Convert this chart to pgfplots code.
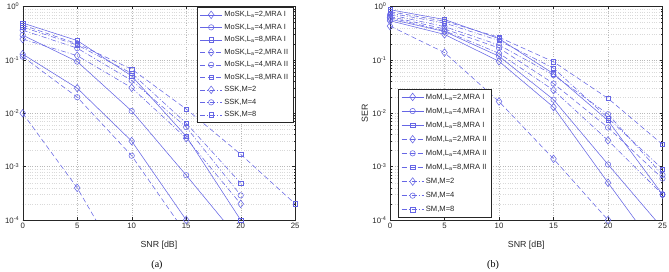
\documentclass[border=0pt]{standalone}
\usepackage{pgfplots}
\pgfplotsset{compat=1.18}
\usepackage{fontspec}
\setmainfont{Liberation Sans}
\newfontfamily\capfont{Liberation Serif}

\definecolor{serblue}{rgb}{0.40,0.40,0.90}
\definecolor{boxgray}{gray}{0.15}

% marker and line styles of the nine curves in each panel
\tikzset{
  mD/.style={mark=diamond, mark size=3.8pt},
  mO/.style={mark=o, mark size=2.7pt},
  mS/.style={mark=square, mark size=2.2pt},
  lI/.style={solid},
  lII/.style={dash pattern=on 5pt off 3pt},
  lS/.style={dash pattern=on 5pt off 2pt on 1pt off 2pt},
}

\pgfplotsset{
  every axis/.append style={
    width=272.5pt, height=213.5pt, scale only axis,
    xmin=0, xmax=25, ymin=1e-4, ymax=1,
    xtick={0,5,...,25},
    ytick={1e-4,1e-3,1e-2,1e-1,1},
    yticklabels={10\textsuperscript{-4},10\textsuperscript{-3},10\textsuperscript{-2},10\textsuperscript{-1},10\textsuperscript{0}},
    /pgf/number format/assume math mode=true,
    tick label style={font=\fontsize{7.8}{9}\selectfont, text=boxgray},
    label style={font=\fontsize{8.8}{10}\selectfont, text=boxgray},
    axis line style={boxgray, line width=0.4pt},
    tick style={boxgray, line width=0.4pt},
    major tick length=3pt, minor tick length=1.6pt,
    grid=both,
    major grid style={dotted, gray!55, line width=0.4pt},
    minor grid style={dotted, gray!30, line width=0.3pt},
    xlabel={SNR [dB]},
    xlabel style={at={(axis description cs:0.5,-0.117)}, anchor=center},
    legend cell align=left,
    legend image code/.code={\draw[mark repeat=2,mark phase=2] plot coordinates {(0pt,0pt) (11pt,0pt) (22pt,0pt)};},
  },
  every axis plot/.append style={serblue, line width=0.55pt, mark options={solid, fill=none}},
}

\begin{document}
\begin{tikzpicture}
\path[use as bounding box] (0,0) rectangle (669pt,272pt);

% (a) MoSK versus SSK
\begin{semilogyaxis}[at={(22.7pt,52pt)}, anchor=south west,
  legend style={at={(0.993,0.997)}, anchor=north east, draw=boxgray, line width=0.4pt,
    font=\fontsize{7.5}{8.5}\selectfont, text=boxgray,
    nodes={inner sep=2pt, text height=5.6pt, text depth=1.4pt}, row sep=1.5pt}]
\addplot[lI, mD] coordinates {(0,0.128) (5,0.0295) (10,0.0030) (15,1.0e-4)};
\addplot[lI, mO] coordinates {(0,0.29) (5,0.093) (10,0.011) (15,6.9e-4) (20,4e-5)};
\addplot[lI, mS] coordinates {(0,0.49) (5,0.23) (10,0.050) (15,0.0037) (20,1.0e-4)};
\addplot[lII, mD] coordinates {(0,0.010) (5,4.0e-4) (10,7e-6)};
\addplot[lII, mO] coordinates {(0,0.115) (5,0.020) (10,0.0016) (15,5.5e-5)};
\addplot[lII, mS] coordinates {(0,0.45) (5,0.20) (10,0.067) (15,0.012) (20,1.7e-3) (25,2.0e-4)};
\addplot[lS, mD] coordinates {(0,0.245) (5,0.12) (10,0.030) (15,0.0034) (20,2.0e-4)};
\addplot[lS, mO] coordinates {(0,0.36) (5,0.166) (10,0.041) (15,0.0055) (20,2.9e-4)};
\addplot[lS, mS] coordinates {(0,0.41) (5,0.19) (10,0.056) (15,0.0065) (20,4.9e-4)};
\legend{MoSK{,}L\textsubscript{a}=2{,}MRA I, MoSK{,}L\textsubscript{a}=4{,}MRA I, MoSK{,}L\textsubscript{a}=8{,}MRA I,
  MoSK{,}L\textsubscript{a}=2{,}MRA II, MoSK{,}L\textsubscript{a}=4{,}MRA II, MoSK{,}L\textsubscript{a}=8{,}MRA II,
  SSK{,}M=2, SSK{,}M=4, SSK{,}M=8}
\end{semilogyaxis}

% (b) MoM versus SM
\begin{semilogyaxis}[at={(390pt,52pt)}, anchor=south west,
  ylabel={SER}, ylabel style={at={(axis description cs:-0.092,0.5)}, anchor=center},
  legend style={at={(0.03,0.012)}, anchor=south west, draw=boxgray, line width=0.4pt,
    font=\fontsize{7.6}{8.5}\selectfont, text=boxgray,
    nodes={inner sep=2pt, text height=5.6pt, text depth=1.4pt}, row sep=3.1pt}]
\addplot[lI, mD] coordinates {(0,0.54) (5,0.30) (10,0.094) (15,0.013) (20,5.0e-4) (25,2e-5)};
\addplot[lI, mO] coordinates {(0,0.58) (5,0.34) (10,0.117) (15,0.018) (20,1.1e-3) (25,7e-5)};
\addplot[lI, mS] coordinates {(0,0.87) (5,0.57) (10,0.25) (15,0.055) (20,0.0073) (25,3.0e-4)};
\addplot[lII, mD] coordinates {(0,0.43) (5,0.137) (10,0.0166) (15,1.4e-3) (20,1.0e-4)};
\addplot[lII, mO] coordinates {(0,0.65) (5,0.38) (10,0.167) (15,0.036) (20,0.0054) (25,6.0e-4)};
\addplot[lII, mS] coordinates {(0,0.80) (5,0.53) (10,0.265) (15,0.092) (20,0.019) (25,2.6e-3)};
\addplot[lS, mD] coordinates {(0,0.62) (5,0.35) (10,0.133) (15,0.027) (20,0.0031) (25,3.0e-4)};
\addplot[lS, mO] coordinates {(0,0.70) (5,0.42) (10,0.19) (15,0.052) (20,0.0096) (25,7.0e-4)};
\addplot[lS, mS] coordinates {(0,0.75) (5,0.49) (10,0.23) (15,0.070) (20,0.0081) (25,9.0e-4)};
\legend{MoM{,}L\textsubscript{a}=2{,}MRA I, MoM{,}L\textsubscript{a}=4{,}MRA I, MoM{,}L\textsubscript{a}=8{,}MRA I,
  MoM{,}L\textsubscript{a}=2{,}MRA II, MoM{,}L\textsubscript{a}=4{,}MRA II, MoM{,}L\textsubscript{a}=8{,}MRA II,
  SM{,}M=2, SM{,}M=4, SM{,}M=8}
\end{semilogyaxis}

\node[font=\capfont\fontsize{10}{12}\selectfont] at (157pt,6.5pt) {(a)};
\node[font=\capfont\fontsize{10}{12}\selectfont] at (493pt,6.5pt) {(b)};
\end{tikzpicture}
\end{document}
